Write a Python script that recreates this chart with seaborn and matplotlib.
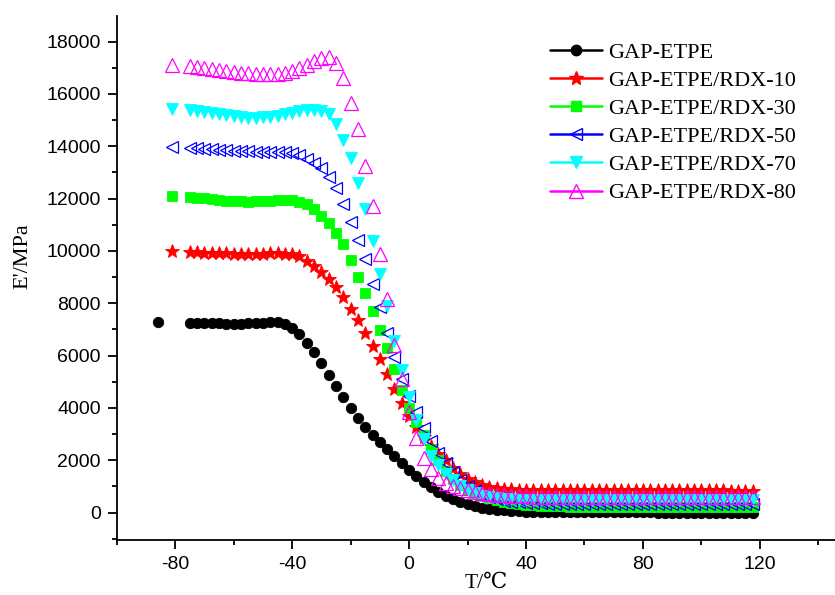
import numpy as np
import pandas as pd
import matplotlib
matplotlib.use("Agg")
import matplotlib.pyplot as plt
from matplotlib.lines import Line2D
from matplotlib.ticker import MultipleLocator
import seaborn as sns

# temperature grid (deg C)
T = [-75, -72.5, -70, -67.5, -65, -62.5, -60, -57.5, -55, -52.5,
     -50, -47.5, -45, -42.5, -40, -37.5, -35, -32.5, -30, -27.5,
     -25, -22.5, -20, -17.5, -15, -12.5, -10, -7.5, -5, -2.5,
     0, 2.5, 5, 7.5, 10, 12.5, 15, 17.5, 20, 22.5,
     25, 27.5, 30, 32.5, 35, 37.5, 40, 42.5, 45, 47.5,
     50, 52.5, 55, 57.5, 60, 62.5, 65, 67.5, 70, 72.5,
     75, 77.5, 80, 82.5, 85, 87.5, 90, 92.5, 95, 97.5,
     100, 102.5, 105, 107.5, 110, 112.5, 115, 117.5]

# storage modulus E' (MPa)
E_etpe = [7250, 7245, 7240, 7235, 7230, 7225, 7225, 7225, 7230, 7235,
          7250, 7270, 7275, 7200, 7060, 6820, 6500, 6130, 5700, 5260,
          4830, 4410, 4000, 3620, 3280, 2960, 2700, 2420, 2150, 1880,
          1620, 1390, 1170, 970, 800, 650, 510, 400, 310, 240,
          180, 140, 110, 85, 65, 50, 40, 32, 26, 22,
          18, 15, 12, 10, 8, 7, 6, 5, 5, 4,
          4, 3, 3, 3, 2, 2, 2, 2, 2, 2,
          2, 2, 2, 2, 2, 2, 2, 2]
E_rdx10 = [9960, 9950, 9940, 9930, 9920, 9910, 9900, 9890, 9890, 9890,
           9900, 9910, 9910, 9900, 9870, 9790, 9620, 9440, 9200, 8930,
           8610, 8230, 7790, 7350, 6860, 6380, 5860, 5300, 4720, 4180,
           3700, 3270, 2880, 2530, 2250, 2010, 1700, 1460, 1300, 1170,
           1060, 990, 940, 910, 890, 880, 870, 865, 860, 860,
           855, 855, 850, 850, 850, 850, 850, 850, 850, 850,
           850, 850, 848, 848, 848, 846, 846, 846, 845, 845,
           845, 845, 845, 845, 842, 842, 840, 840]
E_rdx30 = [12070, 12040, 12010, 11980, 11950, 11920, 11900, 11890, 11880, 11890,
           11900, 11920, 11940, 11950, 11930, 11880, 11780, 11600, 11350, 11060,
           10680, 10250, 9650, 9010, 8380, 7720, 6990, 6280, 5500, 4700,
           4000, 3450, 2950, 2440, 1990, 1600, 1300, 1060, 880, 750,
           640, 550, 470, 410, 360, 320, 290, 270, 255, 245,
           240, 235, 230, 228, 226, 224, 222, 220, 220, 220,
           218, 218, 216, 216, 215, 215, 214, 214, 213, 213,
           212, 212, 211, 211, 210, 210, 210, 210]
E_rdx50 = [13950, 13920, 13900, 13880, 13860, 13840, 13830, 13820, 13810, 13800,
           13800, 13800, 13790, 13780, 13760, 13680, 13530, 13370, 13170, 12820,
           12400, 11790, 11090, 10400, 9700, 8720, 7870, 6860, 5950, 5120,
           4450, 3830, 3240, 2720, 2280, 1900, 1560, 1260, 1020, 830,
           690, 590, 510, 460, 420, 390, 370, 360, 350, 345,
           340, 340, 336, 336, 334, 334, 332, 332, 330, 330,
           330, 330, 330, 330, 330, 330, 330, 330, 330, 330,
           330, 330, 330, 330, 330, 330, 330, 330]
E_rdx70 = [15380, 15350, 15310, 15270, 15230, 15190, 15150, 15120, 15100, 15100,
           15110, 15130, 15170, 15220, 15280, 15330, 15370, 15380, 15360, 15240,
           14850, 14250, 13560, 12600, 11620, 10380, 9100, 7900, 6550, 5450,
           4420, 3520, 2800, 2150, 1820, 1480, 1240, 1030, 860, 740,
           650, 590, 550, 525, 505, 495, 490, 485, 480, 480,
           478, 478, 476, 476, 475, 475, 474, 474, 473, 473,
           472, 472, 472, 471, 471, 471, 470, 470, 470, 470,
           470, 470, 470, 470, 470, 470, 470, 470]
E_rdx80 = [17080, 17040, 17000, 16960, 16920, 16880, 16840, 16810, 16790, 16770,
           16760, 16760, 16780, 16820, 16890, 16980, 17100, 17250, 17380, 17420,
           17180, 16620, 15670, 14650, 13230, 11730, 9880, 8170, 6400, 5100,
           3850, 2850, 2080, 1660, 1330, 1130, 1010, 930, 850, 790,
           750, 710, 680, 660, 640, 625, 615, 610, 605, 605,
           603, 603, 602, 602, 601, 601, 600, 600, 600, 600,
           600, 600, 600, 600, 600, 600, 600, 600, 600, 600,
           600, 600, 600, 600, 600, 600, 600, 600]

# first (isolated) measurement of each sample
T0 = [-86, -81, -81, -81, -81, -81]
E0 = [7280, 9980, 12100, 13990, 15430, 17110]

names = ["GAP-ETPE", "GAP-ETPE/RDX-10", "GAP-ETPE/RDX-30",
         "GAP-ETPE/RDX-50", "GAP-ETPE/RDX-70", "GAP-ETPE/RDX-80"]
series = [E_etpe, E_rdx10, E_rdx30, E_rdx50, E_rdx70, E_rdx80]

# colour, marker, size, filled
styles = [("black", "o", 7.5, True),
          ("red", "*", 10, True),
          ("#00ff00", "s", 6.5, True),
          ("blue", "<", 8, False),
          ("cyan", "v", 8.5, True),
          ("magenta", "^", 9.5, False)]

sns.set_style("ticks")
plt.rcParams["font.family"] = ["Liberation Sans", "DejaVu Sans"]
plt.rcParams["axes.unicode_minus"] = False
plt.rcParams["text.color"] = "black"
plt.rcParams["axes.labelcolor"] = "black"
serif = ["Liberation Serif", "DejaVu Serif"]

fig = plt.figure(figsize=(8.35, 5.95), dpi=100)
ax = fig.add_axes([0.1398, 0.0924, 0.8602, 0.8807])

for i, name in enumerate(names):
    df = pd.DataFrame({"T": [T0[i]] + T, "E": [E0[i]] + series[i]})
    col, mk, ms, filled = styles[i]
    sns.lineplot(data=df, x="T", y="E", ax=ax, estimator=None, sort=False,
                 linestyle="", marker=mk, markersize=ms, color=col,
                 markerfacecolor=col if filled else "none",
                 markeredgecolor=col, markeredgewidth=0.6 if filled else 0.9)

ax.set_xlim(-100, 145.7)
ax.set_ylim(-1050, 18980)
ax.xaxis.set_major_locator(MultipleLocator(40))
ax.xaxis.set_minor_locator(MultipleLocator(20))
ax.yaxis.set_major_locator(MultipleLocator(2000))
ax.yaxis.set_minor_locator(MultipleLocator(1000))
ax.tick_params(which="major", direction="out", length=6.5, width=1.3,
               labelsize=14, color="black", labelcolor="black", pad=5)
ax.tick_params(which="minor", direction="out", length=3.6, width=1.3, color="black")
sns.despine(ax=ax)
for s in ["left", "bottom"]:
    ax.spines[s].set_linewidth(1.3)
    ax.spines[s].set_color("black")

ax.set_xlabel("T/\u2103", family=serif, fontsize=15.5)
ax.set_ylabel("E'/MPa", family=serif, fontsize=16)
ax.xaxis.set_label_coords(0.515, -0.064)
ax.yaxis.set_label_coords(-0.118, 0.542)

handles = []
for i, name in enumerate(names):
    col, mk, ms, filled = styles[i]
    handles.append(Line2D([], [], color=col, lw=1.8, marker=mk, markersize=ms,
                          markerfacecolor=col if filled else "none",
                          markeredgecolor=col))
ax.legend(handles, names, loc="upper left", bbox_to_anchor=(0.6587, 0.929),
          bbox_transform=fig.transFigure, borderpad=0, borderaxespad=0,
          frameon=False, prop={"family": serif, "size": 16},
          handlelength=2.34, labelspacing=0.34, handletextpad=0.27)

fig.savefig("out.png", dpi=100)
